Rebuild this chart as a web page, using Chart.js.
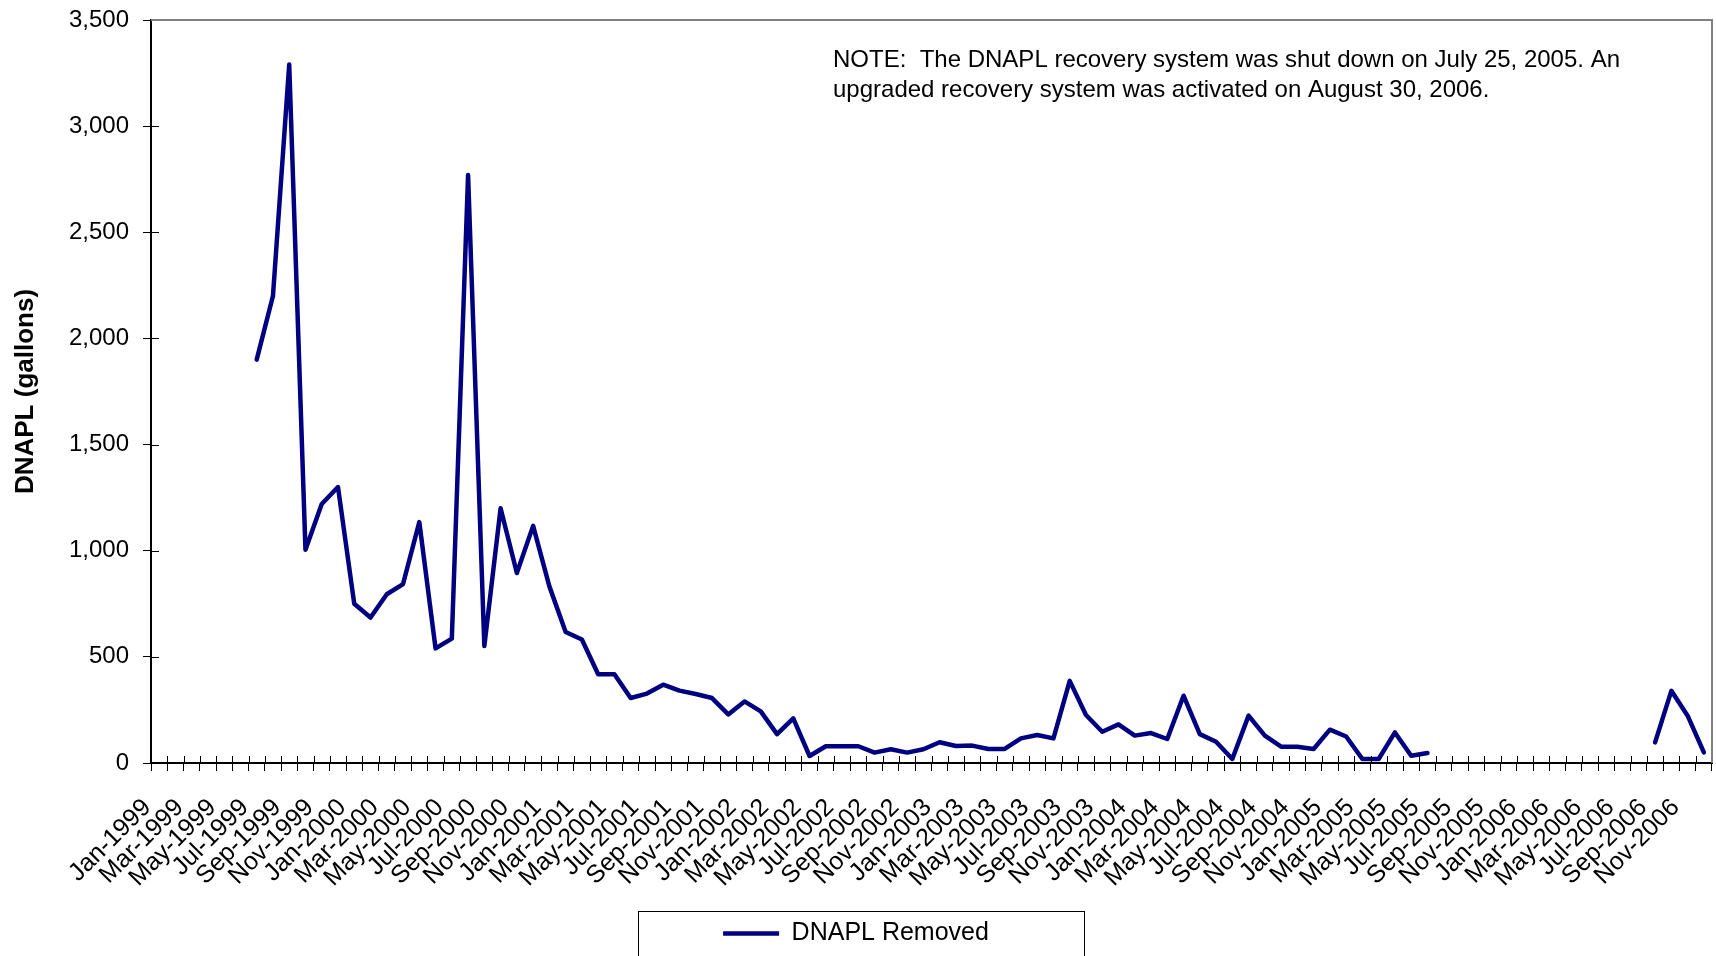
<!DOCTYPE html>
<html>
<head>
<meta charset="utf-8">
<script src="https://cdn.jsdelivr.net/npm/chart.js@4.4.1/dist/chart.umd.min.js"></script>
<style>
  html, body { margin: 0; padding: 0; background: #fff; }
  #wrap { width: 1716px; height: 956px; }
</style>
</head>
<body>
<div id="wrap"><canvas id="dnaplChart" width="1716" height="956"></canvas></div>
<script>
const monthNames = ['Jan', 'Feb', 'Mar', 'Apr', 'May', 'Jun', 'Jul', 'Aug', 'Sep', 'Oct', 'Nov', 'Dec'];
const years = [1999, 2000, 2001, 2002, 2003, 2004, 2005, 2006];

// gallons per month, null = no recovery (system off)
const removed1999 = [null, null, null, null, null, null, 1900, 2200, 3290, 1005, 1220, 1300];
const removed2000 = [750, 685, 795, 843, 1135, 540, 586, 2770, 551, 1200, 895, 1117];
const removed2001 = [832, 617, 582, 418, 418, 306, 327, 369, 341, 325, 306, 229];
const removed2002 = [290, 243, 136, 210, 33, 79, 79, 79, 49, 65, 49, 65];
const removed2003 = [98, 80, 82, 66, 66, 116, 132, 116, 387, 226, 147, 182];
const removed2004 = [129, 141, 113, 317, 136, 100, 19, 223, 129, 77, 77, 66];
const removed2005 = [157, 125, 19, 19, 144, 34, 47, null, null, null, null, null];
const removed2006 = [null, null, null, null, null, null, null, null, 97, 340, 223, 50];

const yTicks = [0, 500, 1000, 1500, 2000, 2500, 3000, 3500];

const noteLines = [
    'NOTE:  The DNAPL recovery system was shut down on July 25, 2005. An',
    'upgraded recovery system was activated on August 30, 2006.'
];

const labels = [];
years.forEach(y => monthNames.forEach(m => labels.push(`${m}-${y}`)));
const removed = [].concat(removed1999, removed2000, removed2001, removed2002,
    removed2003, removed2004, removed2005, removed2006);

const lineColor = '#000080';
const fontFamily = '"Liberation Sans", Arial, sans-serif';

// ticks crossing the axes, grey frame on top/right, note and legend frame
const extrasPlugin = {
    id: 'extras',
    afterDraw(chart) {
        const { ctx, chartArea: a, scales } = chart;
        ctx.save();
        ctx.strokeStyle = '#000';
        ctx.lineWidth = 1;
        ctx.beginPath();
        const n = labels.length;
        for (let i = 0; i <= n; i++) {
            const x = Math.round(a.left + (a.right - a.left) * i / n) + 0.5;
            ctx.moveTo(x, a.bottom);
            ctx.lineTo(x, a.bottom - 7);
        }
        yTicks.forEach(v => {
            const y = Math.round(scales.y.getPixelForValue(v)) + 0.5;
            ctx.moveTo(a.left, y);
            ctx.lineTo(a.left + 8, y);
        });
        ctx.stroke();

        ctx.strokeStyle = '#808080';
        ctx.lineWidth = 2;
        ctx.beginPath();
        ctx.moveTo(a.left, a.top);
        ctx.lineTo(a.right, a.top);
        ctx.lineTo(a.right, a.bottom);
        ctx.stroke();

        ctx.fillStyle = '#000';
        ctx.font = `24px ${fontFamily}`;
        ctx.textBaseline = 'alphabetic';
        noteLines.forEach((t, i) => ctx.fillText(t, 833, 67 + i * 30));

        const lg = chart.legend;
        const cx = (lg.left + lg.right) / 2;
        ctx.strokeStyle = '#000';
        ctx.lineWidth = 1;
        ctx.strokeRect(Math.round(cx - 218) + 0.5, 911.5, 446, 60);
        ctx.restore();
    }
};

new Chart(document.getElementById('dnaplChart').getContext('2d'), {
    type: 'line',
    data: {
        labels,
        datasets: [{
            label: 'DNAPL Removed',
            data: removed,
            borderColor: lineColor,
            backgroundColor: lineColor,
            borderWidth: 4.5,
            borderCapStyle: 'round',
            borderJoinStyle: 'round',
            pointRadius: 0,
            tension: 0,
            spanGaps: false,
        }]
    },
    options: {
        responsive: false,
        animation: false,
        layout: { padding: { top: 20, right: 4, left: 0, bottom: 0 } },
        plugins: {
            tooltip: { enabled: false },
            legend: {
                position: 'bottom',
                labels: {
                    usePointStyle: true,
                    pointStyle: 'line',
                    pointStyleWidth: 56,
                    padding: 10,
                    color: '#000',
                    font: { family: fontFamily, size: 25 }
                }
            }
        },
        scales: {
            x: {
                offset: true,
                grid: {
                    offset: true,
                    drawOnChartArea: false,
                    tickLength: 8,
                    color: '#000'
                },
                border: { color: '#000', width: 2 },
                ticks: {
                    autoSkip: false,
                    minRotation: 45,
                    maxRotation: 45,
                    padding: 22,
                    labelOffset: -12,
                    color: '#000',
                    font: { family: fontFamily, size: 25 },
                    callback(val, i) {
                        return i % 2 === 0 ? labels[i] : '';
                    }
                },
                afterFit(scale) {
                    scale.height = 148;
                    scale.paddingLeft = 0;
                    scale.paddingRight = 0;
                }
            },
            y: {
                min: 0,
                max: 3500,
                afterBuildTicks(scale) {
                    scale.ticks = yTicks.map(v => ({ value: v }));
                },
                grid: {
                    drawOnChartArea: false,
                    tickLength: 8,
                    color: '#000'
                },
                border: { color: '#000', width: 2 },
                ticks: {
                    padding: 14,
                    color: '#000',
                    font: { family: fontFamily, size: 24 },
                    callback: v => v.toLocaleString('en-US')
                },
                title: {
                    display: true,
                    text: 'DNAPL (gallons)',
                    color: '#000',
                    padding: { top: 10, bottom: 0 },
                    font: { family: fontFamily, size: 26, weight: 'bold' }
                },
                afterFit(scale) {
                    scale.width = 151;
                    scale.paddingTop = 0;
                    scale.paddingBottom = 0;
                }
            }
        }
    },
    plugins: [extrasPlugin]
});
</script>
</body>
</html>
